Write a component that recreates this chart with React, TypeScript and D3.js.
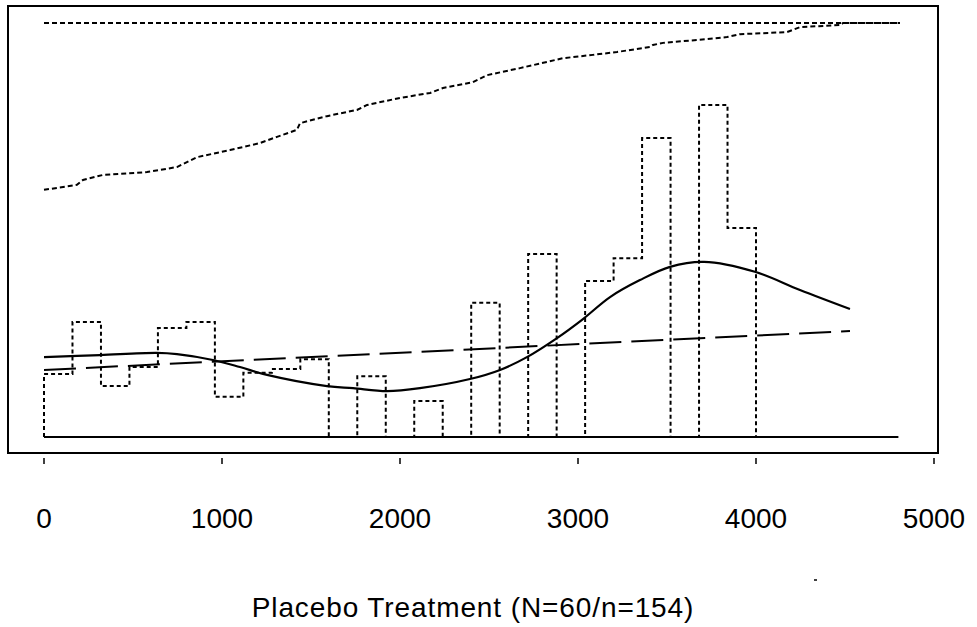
import React from "react";
import * as d3 from "d3";

// Histogram of measurements, 160-wide bins from 0 to 4800 (percent scale)
const binWidth = 160;
const binHeights = [
  15.2, 27.8, 12.3, 16.9, 26.3, 27.8, 9.7, 15.5, 16.4, 18.8,
  0, 14.7, 0, 8.7, 0, 32.4, 0, 44.2, 0, 37.7,
  43.2, 72.2, 0, 80.2, 50.5, 0, 0, 0, 0, 0,
];

// Cumulative distribution (percent)
const cumX = [
  0, 185, 219, 331, 522, 579, 747, 860, 1045, 1213, 1309, 1421, 1438, 1590,
  1758, 1815, 2000, 2169, 2242, 2410, 2489, 2674, 2826, 2916, 3084, 3219,
  3404, 3421, 3478, 3725, 3837, 3910, 4174, 4247, 4472, 4489, 4809,
];
const cumY = [
  59.7, 60.9, 62.1, 63.3, 63.8, 64.0, 65.2, 67.6, 69.3, 71.0, 72.5, 74.2,
  75.8, 77.5, 79.0, 80.2, 81.9, 83.1, 84.3, 85.7, 87.4, 89.1, 90.6, 91.5,
  92.3, 93.0, 94.2, 94.7, 95.2, 96.1, 96.6, 97.3, 97.8, 99.0, 99.5, 100, 100,
];

// Smoothed density curve
const smoothX = [
  0, 315, 635, 747, 949, 1101, 1253, 1590, 1736, 1927, 2112, 2393, 2562,
  2713, 2882, 3028, 3180, 3348, 3517, 3708, 3994, 4247, 4528,
];
const smoothY = [
  19.3, 19.8, 20.3, 20.0, 18.6, 16.9, 15.0, 12.3, 11.8, 11.1, 11.8, 14.0,
  16.2, 19.3, 23.9, 28.5, 33.8, 37.9, 41.1, 42.3, 39.9, 35.5, 30.9,
];

// Linear trend
const trendX = [0, 4528];
const trendY = [16.2, 25.6];

// Reference line at 100% and x-axis extent
const refX = [0, 4800];
const refY = [100, 100];

const xTicks = [0, 1000, 2000, 3000, 4000, 5000];
const xTitle = "Placebo Treatment (N=60/n=154)";

const W = 977;
const H = 627;
const FONT = "'Liberation Sans', Arial, Helvetica, sans-serif";

export default function App() {
  const x = d3.scaleLinear().domain([0, 5000]).range([44, 934]);
  const y = d3.scaleLinear().domain([0, 100]).range([437, 23]);

  const line = d3
    .line<[number, number]>()
    .x((d) => x(d[0]))
    .y((d) => y(d[1]));
  const smooth = d3
    .line<[number, number]>()
    .x((d) => x(d[0]))
    .y((d) => y(d[1]))
    .curve(d3.curveCatmullRom.alpha(0.5));

  // Histogram outline up to the last non-empty bin
  let last = 0;
  binHeights.forEach((h, i) => {
    if (h > 0) last = i;
  });
  const histPts: [number, number][] = [[0, 0]];
  for (let i = 0; i <= last; i++) {
    histPts.push([i * binWidth, binHeights[i]]);
    histPts.push([(i + 1) * binWidth, binHeights[i]]);
  }
  histPts.push([(last + 1) * binWidth, 0]);

  const zip = (a: number[], b: number[]) =>
    a.map((v, i) => [v, b[i]] as [number, number]);

  const frame = { x: 8, y: 6, w: 930, h: 447 };

  return (
    <svg
      width={W}
      height={H}
      style={{ position: "absolute", left: 0, top: 0, background: "#fff" }}
    >
      <rect width={W} height={H} fill="#fff" />
      <rect
        x={frame.x}
        y={frame.y}
        width={frame.w}
        height={frame.h}
        fill="none"
        stroke="#000"
        strokeWidth={2}
      />
      {/* reference line */}
      <path
        d={line(zip(refX, refY)) || ""}
        fill="none"
        stroke="#000"
        strokeWidth={2}
        strokeDasharray="5 3"
      />
      {/* cumulative */}
      <path
        d={line(zip(cumX, cumY)) || ""}
        fill="none"
        stroke="#000"
        strokeWidth={2}
        strokeDasharray="5 3"
      />
      {/* histogram */}
      <path
        d={line(histPts) || ""}
        fill="none"
        stroke="#000"
        strokeWidth={2}
        strokeDasharray="4 3"
      />
      {/* trend */}
      <path
        d={line(zip(trendX, trendY)) || ""}
        fill="none"
        stroke="#000"
        strokeWidth={2}
        strokeDasharray="32 10"
      />
      {/* smooth curve */}
      <path
        d={smooth(zip(smoothX, smoothY)) || ""}
        fill="none"
        stroke="#000"
        strokeWidth={2.2}
      />
      {/* baseline */}
      <line
        x1={x(refX[0])}
        x2={x(refX[1])}
        y1={y(0)}
        y2={y(0)}
        stroke="#000"
        strokeWidth={2}
      />
      {/* x ticks */}
      {xTicks.map((t) => (
        <g key={t}>
          <line
            x1={x(t)}
            x2={x(t)}
            y1={frame.y + frame.h + 5}
            y2={frame.y + frame.h + 11}
            stroke="#000"
            strokeWidth={1.5}
          />
          <text
            x={x(t)}
            y={528}
            textAnchor="middle"
            fontFamily={FONT}
            fontSize={28}
            fill="#000"
          >
            {t}
          </text>
        </g>
      ))}
      <text
        x={473}
        y={617}
        textAnchor="middle"
        fontFamily={FONT}
        fontSize={28}
        letterSpacing={0.9}
        fill="#000"
      >
        {xTitle}
      </text>
      <line x1={814} x2={817} y1={580} y2={580} stroke="#000" strokeWidth={1.5} />
    </svg>
  );
}
